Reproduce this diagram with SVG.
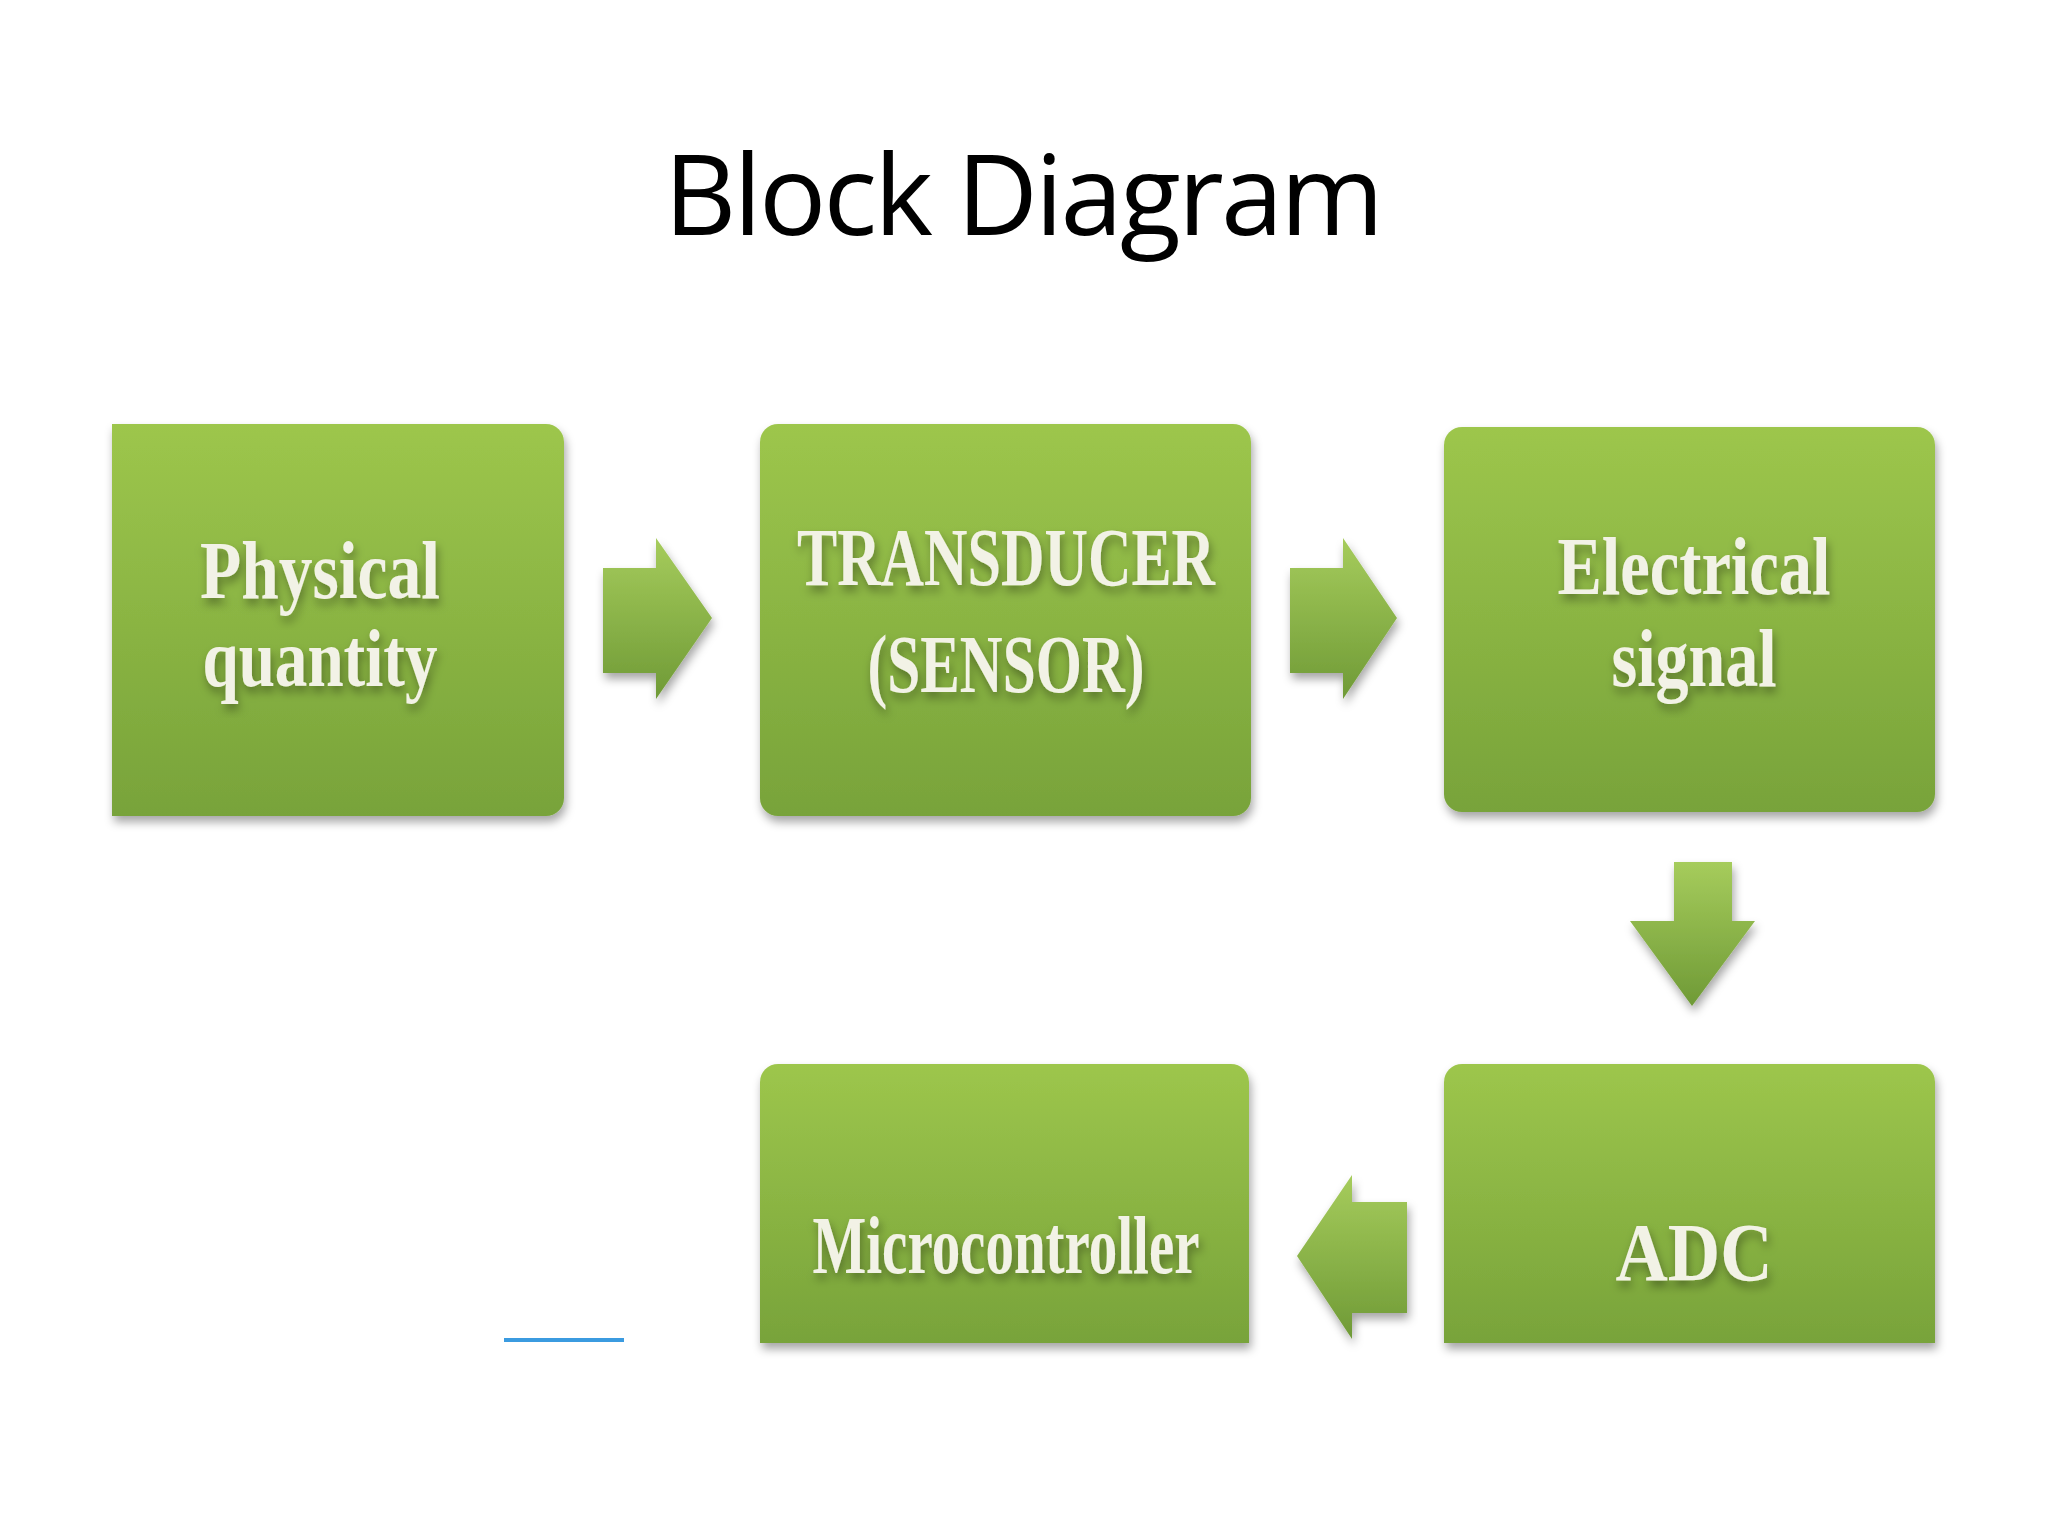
<svg xmlns="http://www.w3.org/2000/svg" width="2048" height="1536" viewBox="0 0 2048 1536">
<defs>
<linearGradient id="g" x1="0" y1="0" x2="0" y2="1"><stop offset="0" stop-color="#9dc64c"/><stop offset="1" stop-color="#78a33a"/></linearGradient>
<linearGradient id="ga" x1="0" y1="0" x2="0" y2="1"><stop offset="0" stop-color="#a6cc5c"/><stop offset="1" stop-color="#6f9a36"/></linearGradient>
<filter id="sh" x="-10%" y="-10%" width="120%" height="125%"><feDropShadow dx="2" dy="6" stdDeviation="5" flood-color="#000" flood-opacity="0.35"/></filter>
</defs>
<style>
.box{fill:url(#g);filter:url(#sh)}
.arr{fill:url(#ga);filter:url(#sh)}
.t{font-family:"Liberation Serif",serif;font-size:82px;font-weight:bold;fill:#f2f2e6;text-anchor:middle;filter:url(#sh)}
</style>
<rect width="2048" height="1536" fill="#fff"/>
<text x="1024" y="235" font-family="Open Sans, Liberation Sans, sans-serif" font-size="112" text-anchor="middle" textLength="720" fill="#000">Block Diagram</text>
<g id="physical"><path class="box" d="M112 424H546a18 18 0 0 1 18 18V798a18 18 0 0 1-18 18H112Z"/><text class="t" x="320" y="598" textLength="240" lengthAdjust="spacingAndGlyphs">Physical</text><text class="t" x="320" y="686" textLength="235" lengthAdjust="spacingAndGlyphs">quantity</text></g>
<g id="transducer"><rect class="box" x="760" y="424" width="491" height="392" rx="18"/><text class="t" x="1006" y="585" textLength="418" lengthAdjust="spacingAndGlyphs">TRANSDUCER</text><text class="t" x="1006" y="692" textLength="277" lengthAdjust="spacingAndGlyphs">(SENSOR)</text></g>
<g id="electrical"><rect class="box" x="1444" y="427" width="491" height="385" rx="18"/><text class="t" x="1694" y="594" textLength="273" lengthAdjust="spacingAndGlyphs">Electrical</text><text class="t" x="1694" y="686" textLength="165" lengthAdjust="spacingAndGlyphs">signal</text></g>
<g id="micro"><path class="box" d="M760 1343V1082a18 18 0 0 1 18-18H1231a18 18 0 0 1 18 18V1343Z"/><text class="t" x="1006" y="1273" textLength="387" lengthAdjust="spacingAndGlyphs">Microcontroller</text></g>
<g id="adc"><path class="box" d="M1444 1343V1082a18 18 0 0 1 18-18H1917a18 18 0 0 1 18 18V1343Z"/><text class="t" x="1694" y="1280" textLength="157" lengthAdjust="spacingAndGlyphs">ADC</text></g>
<g id="connectors">
<path class="arr" d="M603 568H656V538L712 618L656 699V673H603Z"/>
<path class="arr" d="M1290 568H1343V538L1397 618L1343 699V673H1290Z"/>
<path class="arr" d="M1674 862H1732V921H1755L1692 1006L1630 921H1674Z"/>
<path class="arr" d="M1407 1202H1352V1175L1297 1256L1352 1339V1313H1407Z"/>
</g>
<rect x="504" y="1338" width="120" height="4" fill="#3b9be0"/>
</svg>
